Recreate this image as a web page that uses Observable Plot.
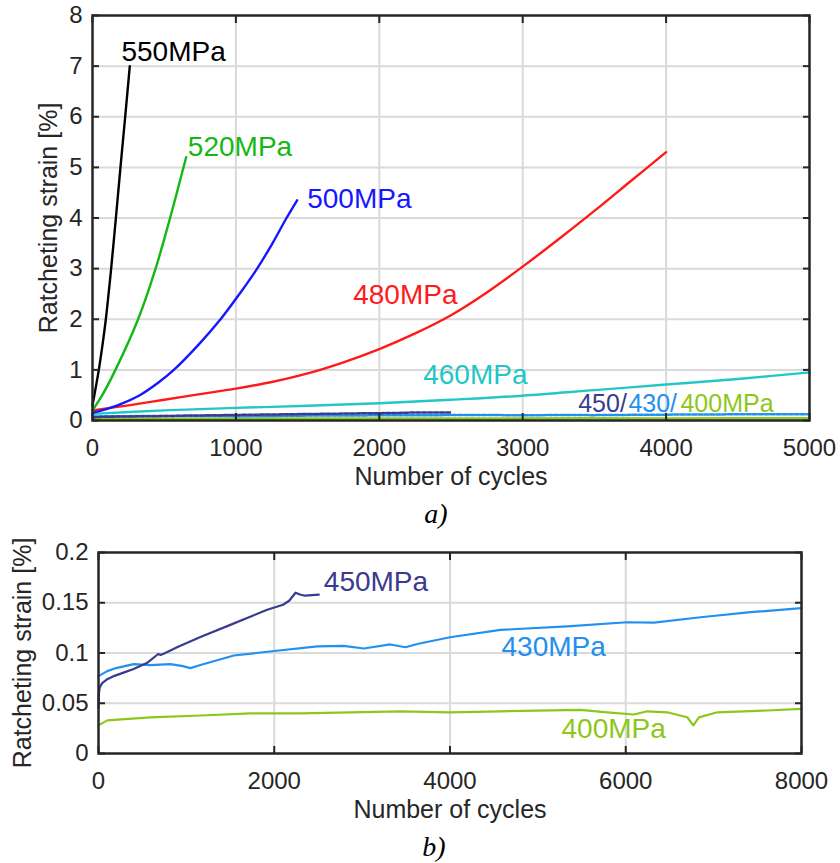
<!DOCTYPE html>
<html>
<head>
<meta charset="utf-8">
<script src="https://cdn.jsdelivr.net/npm/d3@7"></script>
<script src="https://cdn.jsdelivr.net/npm/@observablehq/plot@0.6"></script>
<style>
  body { margin: 0; background: #fff; }
  #wrap { position: relative; width: 840px; height: 863px; overflow: hidden; }
  #pa, #pb { position: absolute; left: 0; }
  #pa { top: 0; }
  #pb { top: 520px; }
  svg { overflow: visible; }
</style>
</head>
<body>
<div id="wrap"><div id="pa"></div><div id="pb"></div></div>
<script>
// Ratcheting strain [%] against number of cycles, one curve per stress amplitude.
// Each entry: [cycles, strain %]
const curve550 = [[0,0.3],[44,1.0],[70,1.5],[93,2.0],[112,2.5],[130,3.0],[163,4.0],[195,5.0],[228,6.0],[260,7.0]];
const curve520 = [[0,0.2],[68,0.5],[160,1.0],[318,2.0],[440,3.0],[541,4.0],[653,5.2]];
const curve500 = [[0,0.15],[175,0.3],[330,0.5],[460,0.75],[567,1.0],[740,1.5],[893,2.0],[1025,2.5],[1148,3.0],[1255,3.5],[1353,4.0],[1427,4.35]];
const curve480 = [[0,0.2],[250,0.3],[500,0.41],[750,0.52],[1000,0.63],[1250,0.76],[1500,0.93],[1750,1.15],[2000,1.41],[2250,1.72],[2500,2.08],[2750,2.53],[3000,3.04],[3250,3.58],[3500,4.14],[3750,4.72],[4000,5.3]];
const curve460 = [[0,0.13],[500,0.2],[1000,0.25],[1500,0.29],[2000,0.34],[2500,0.41],[3000,0.49],[3500,0.6],[4000,0.71],[4500,0.82],[5000,0.95]];
const curve450 = [[0,0.045],[5,0.06],[15,0.066],[42,0.07],[100,0.074],[175,0.077],[300,0.081],[400,0.084],[550,0.09],[680,0.099],[706,0.098],[760,0.1],[900,0.106],[1160,0.116],[1500,0.128],[1920,0.143],[2100,0.148],[2170,0.152],[2242,0.16],[2300,0.158],[2350,0.157],[2507,0.158]];
const curve430 = [[0,0.077],[100,0.082],[200,0.085],[400,0.089],[590,0.088],[820,0.089],[960,0.087],[1047,0.085],[1160,0.088],[1540,0.0975],[2000,0.102],[2490,0.1065],[2790,0.107],[3020,0.1045],[3320,0.1085],[3494,0.1057],[3627,0.109],[4000,0.1157],[4574,0.123],[5333,0.1264],[6016,0.1306],[6320,0.1302],[6852,0.1356],[7420,0.1406],[8000,0.1446]];
const curve400 = [[0,0.028],[100,0.033],[590,0.036],[1160,0.0378],[1730,0.04],[2300,0.04],[2870,0.041],[3437,0.042],[4000,0.041],[4574,0.042],[5484,0.0434],[5788,0.041],[6092,0.0388],[6245,0.042],[6472,0.041],[6700,0.0361],[6769,0.028],[6833,0.036],[7042,0.041],[7611,0.0428],[8000,0.0444]];

// Axis ticks
const xTicksA = [0, 1000, 2000, 3000, 4000, 5000];
const yTicksA = [0, 1, 2, 3, 4, 5, 6, 7, 8];
const xTicksB = [0, 2000, 4000, 6000, 8000];
const yTicksB = [0, 0.05, 0.1, 0.15, 0.2];

// Curve labels: text, anchor cycles, anchor strain
const labelTextA = ["550MPa", "520MPa", "500MPa", "480MPa", "460MPa"];
const labelXA = [202, 665, 1497, 1818, 2306];
const labelYA = [7.27, 5.40, 4.38, 2.47, 0.89];
const lowLabelText = ["450/", "430/", "400MPa"];
const lowLabelX = [3387, 3737, 4100];
const lowLabelY = 0.33;
const labelTextB = ["450MPa", "430MPa", "400MPa"];
const labelXB = [2564, 4586, 5269];
const labelYB = [0.1704, 0.1062, 0.0246];

// Styling
const SANS = "'Liberation Sans', Arial, Helvetica, sans-serif";
const SERIF = "'Liberation Serif', 'Times New Roman', serif";
const INK = "#262626";
const GRID = "#dadada";
const color = {
  "550MPa": "#000000", "520MPa": "#14b814", "500MPa": "#1616ff", "480MPa": "#ff1a1a",
  "460MPa": "#22c6c6", "450MPa": "#3a3b8e", "430MPa": "#2290f0", "400MPa": "#8cc81a"
};

const pts = (arr) => arr.map(([x, y]) => ({x, y}));

function frameMarks(xTicks, yTicks) {
  const blank = () => "";
  return [
    Plot.frame({stroke: INK, strokeWidth: 2.5}),
    Plot.axisX(xTicks, {anchor: "bottom", tickSize: -7, tickPadding: 25, tickFormat: String, label: null, stroke: INK, strokeWidth: 2, fill: INK, fontSize: 24}),
    Plot.axisX(xTicks, {anchor: "top", tickSize: -7, tickFormat: blank, label: null, stroke: INK, strokeWidth: 2}),
    Plot.axisY(yTicks, {anchor: "left", tickSize: -7, tickPadding: 17, tickFormat: String, label: null, stroke: INK, strokeWidth: 2, fill: INK, fontSize: 24}),
    Plot.axisY(yTicks, {anchor: "right", tickSize: -7, tickFormat: blank, label: null, stroke: INK, strokeWidth: 2})
  ];
}

function titles(yDx, caption, capDx, capDy) {
  return [
    Plot.text(["Ratcheting strain [%]"], {frameAnchor: "left", rotate: -90, dx: yDx, fontSize: 25, fill: INK, textAnchor: "middle", lineAnchor: "middle"}),
    Plot.text(["Number of cycles"], {frameAnchor: "bottom", dy: 56, fontSize: 25, fill: INK, lineAnchor: "middle"}),
    Plot.text([caption], {frameAnchor: "bottom", dx: capDx, dy: capDy, lineAnchor: "middle", fontFamily: SERIF, fontStyle: "italic", fontSize: 28, fill: "#000"})
  ];
}

// ---- Panel a: all stress levels, clipped at 5000 cycles
const smooth = {x: "x", y: "y", strokeWidth: 2.4, curve: "catmull-rom"};
const marksA = [
  Plot.gridX(xTicksA.slice(1, -1), {stroke: GRID, strokeOpacity: 1, strokeWidth: 2}),
  Plot.gridY(yTicksA.slice(1, -1), {stroke: GRID, strokeOpacity: 1, strokeWidth: 2}),
  Plot.line(pts(curve400), {x: "x", y: "y", stroke: color["400MPa"], strokeWidth: 2.5, clip: true}),
  Plot.line(pts(curve430), {x: "x", y: "y", stroke: color["430MPa"], strokeWidth: 2.5, strokeDasharray: "4,2", clip: true}),
  Plot.line(pts(curve450), {x: "x", y: "y", stroke: color["450MPa"], strokeWidth: 2.5, strokeDasharray: "4,2", clip: true}),
  Plot.line(pts(curve460), {...smooth, stroke: color["460MPa"]}),
  Plot.line(pts(curve480), {...smooth, stroke: color["480MPa"]}),
  Plot.line(pts(curve500), {...smooth, stroke: color["500MPa"]}),
  Plot.line(pts(curve520), {...smooth, stroke: color["520MPa"]}),
  Plot.line(pts(curve550), {...smooth, stroke: color["550MPa"]}),
  ...labelTextA.map((t, i) => Plot.text([t], {x: () => labelXA[i], y: () => labelYA[i], textAnchor: "start", fontSize: 28, fill: color[t]})),
  ...lowLabelText.map((t, i) => Plot.text([t], {x: () => lowLabelX[i], y: () => lowLabelY, textAnchor: "start", fontSize: 25, fill: color[["450MPa", "430MPa", "400MPa"][i]]})),
  ...frameMarks(xTicksA, yTicksA),
  ...titles(-44, "a)", -15, 94)
];

const plotA = Plot.plot({
  width: 840, height: 520,
  marginTop: 15, marginBottom: 100, marginLeft: 92, marginRight: 31,
  x: {domain: [0, 5000]},
  y: {domain: [0, 8]},
  style: {fontFamily: SANS, fontSize: "24px", color: INK, background: "transparent"},
  marks: marksA
});
document.getElementById("pa").append(plotA);

// ---- Panel b: low stress levels up to 8000 cycles
const marksB = [
  Plot.gridX(xTicksB.slice(1, -1), {stroke: GRID, strokeOpacity: 1, strokeWidth: 2}),
  Plot.gridY(yTicksB.slice(1, -1), {stroke: GRID, strokeOpacity: 1, strokeWidth: 2}),
  Plot.line(pts(curve400), {x: "x", y: "y", stroke: color["400MPa"], strokeWidth: 2.2}),
  Plot.line(pts(curve430), {x: "x", y: "y", stroke: color["430MPa"], strokeWidth: 2.2}),
  Plot.line(pts(curve450), {x: "x", y: "y", stroke: color["450MPa"], strokeWidth: 2.2}),
  ...labelTextB.map((t, i) => Plot.text([t], {x: () => labelXB[i], y: () => labelYB[i], textAnchor: "start", fontSize: 28, fill: color[t]})),
  ...frameMarks(xTicksB, yTicksB),
  ...titles(-75.5, "b)", -16, 94)
];

const plotB = Plot.plot({
  width: 840, height: 343,
  marginTop: 32, marginBottom: 110, marginLeft: 98, marginRight: 39,
  x: {domain: [0, 8000]},
  y: {domain: [0, 0.2]},
  style: {fontFamily: SANS, fontSize: "24px", color: INK, background: "transparent"},
  marks: marksB
});
document.getElementById("pb").append(plotB);
</script>
</body>
</html>
